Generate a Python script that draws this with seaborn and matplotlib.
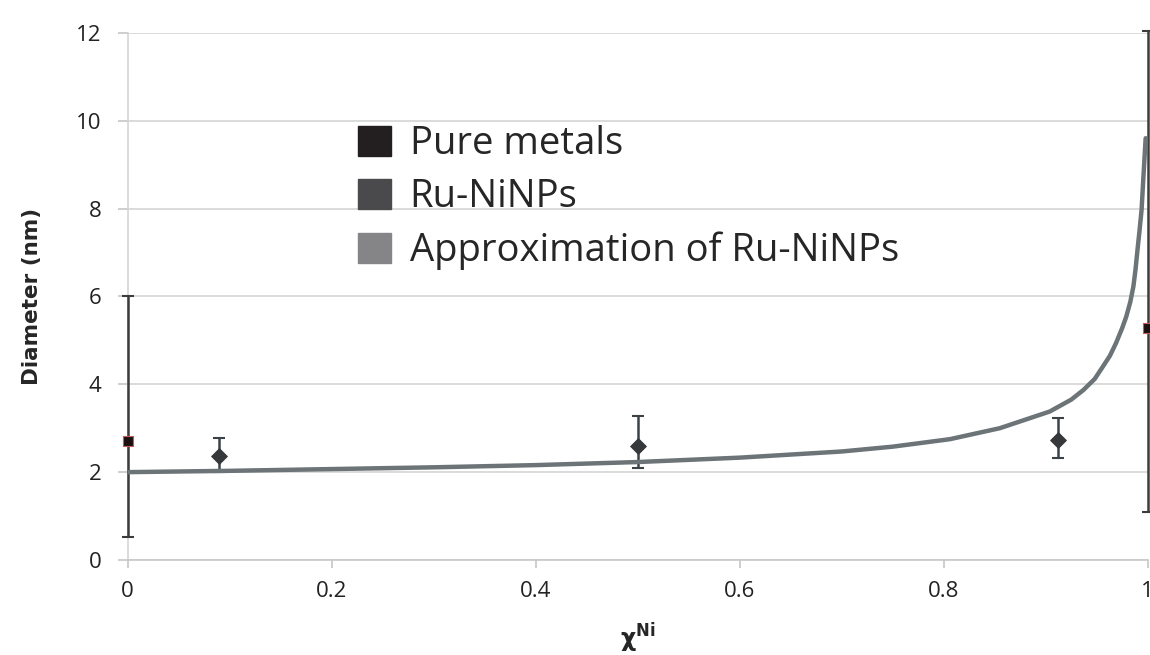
import numpy as np
import pandas as pd
import matplotlib
matplotlib.use("Agg")
import matplotlib.pyplot as plt
from matplotlib.patches import Patch
import seaborn as sns

# ---- data ----
pure_x = [0.0, 1.0]
pure_y = [2.7, 5.28]
pure_lo = [0.52, 1.1]
pure_hi = [6.0, 12.05]

ru_x = [0.09, 0.5, 0.912]
ru_y = [2.36, 2.6, 2.73]
ru_lo = [2.0, 2.1, 2.33]
ru_hi = [2.78, 3.27, 3.23]

fit_x = [0.0, 0.1, 0.2, 0.3, 0.4, 0.5, 0.6, 0.7, 0.75, 0.806, 0.855, 0.904,
         0.925, 0.937, 0.948, 0.956, 0.963, 0.969, 0.975, 0.979, 0.983,
         0.986, 0.988, 0.990, 0.992, 0.994, 0.996, 0.998]
fit_y = [2.0, 2.03, 2.07, 2.11, 2.16, 2.23, 2.33, 2.47, 2.58, 2.75, 3.0, 3.38,
         3.65, 3.87, 4.12, 4.40, 4.65, 4.94, 5.28, 5.54, 5.88,
         6.23, 6.6, 7.06, 7.5, 7.97, 8.8, 9.6]

legend_labels = ["Pure metals", "Ru-NiNPs", "Approximation of Ru-NiNPs"]
legend_colors = ["#231f20", "#4a4a4c", "#858588"]

pure_df = pd.DataFrame({"x": pure_x, "y": pure_y})
ru_df = pd.DataFrame({"x": ru_x, "y": ru_y})
fit_df = pd.DataFrame({"x": fit_x, "y": fit_y})

sns.set_theme(style="white")
plt.rcParams['font.family'] = ['Open Sans', 'DejaVu Sans']

fig, ax = plt.subplots(figsize=(11.5, 6.55), dpi=100)
fig.subplots_adjust(left=0.111, right=0.998, top=0.95, bottom=0.145)

# error bars
ax.errorbar(pure_x, pure_y,
            yerr=[np.subtract(pure_y, pure_lo), np.subtract(pure_hi, pure_y)],
            fmt="none", ecolor="#3c3c3c", elinewidth=1.8, capsize=4, capthick=1.5,
            zorder=3, clip_on=False)
ax.errorbar(ru_x, ru_y,
            yerr=[np.subtract(ru_y, ru_lo), np.subtract(ru_hi, ru_y)],
            fmt="none", ecolor="#3a4448", elinewidth=1.8, capsize=4, capthick=1.5,
            zorder=3)

# approximation curve
sns.lineplot(data=fit_df, x="x", y="y", ax=ax, color="#6c7477", linewidth=3.2,
             zorder=4)

# points
sns.scatterplot(data=pure_df, x="x", y="y", ax=ax, marker="s", s=55,
                color="#1a1012", edgecolor="#c85a5a", linewidth=0.8, zorder=5,
                clip_on=False)
sns.scatterplot(data=ru_df, x="x", y="y", ax=ax, marker="D", s=65,
                color="#36393c", edgecolor="#36393c", zorder=5)

ax.set_xlim(0, 1)
ax.set_ylim(0, 12)
ax.set_xticks([0, 0.2, 0.4, 0.6, 0.8, 1])
ax.set_xticklabels(["0", "0.2", "0.4", "0.6", "0.8", "1"])
ax.set_yticks([0, 2, 4, 6, 8, 10, 12])
ax.yaxis.grid(True, color="#d4d4d4", linewidth=1.2)
ax.xaxis.grid(False)
for side in ["top", "right"]:
    ax.spines[side].set_visible(False)
ax.spines["left"].set_color("#d4d4d4")
ax.spines["bottom"].set_color("#c8c8c8")
ax.spines["left"].set_linewidth(1.2)
ax.spines["bottom"].set_linewidth(1.2)
ax.tick_params(axis="x", bottom=True, length=6, color="#c8c8c8", labelsize=16,
               pad=9, labelcolor="#222222")
ax.tick_params(axis="y", left=True, length=7, color="#c8c8c8", labelsize=16,
               pad=12, labelcolor="#222222")

ax.set_xlabel(r"$\mathbf{\chi}^{\mathbf{Ni}}$", fontsize=17, labelpad=14)
ax.set_ylabel("Diameter (nm)", fontsize=15.5, fontweight="bold", labelpad=24,
              family=["Liberation Sans Narrow", "DejaVu Sans"])

handles = [Patch(facecolor=c, edgecolor=c) for c in legend_colors]
ax.legend(handles, legend_labels, loc="upper left",
          bbox_to_anchor=(0.211, 0.854), frameon=False, fontsize=27.5,
          handlelength=0.85, handleheight=0.85, handletextpad=0.5,
          labelspacing=0.4, borderaxespad=0)

plt.savefig("out.png", dpi=100)
